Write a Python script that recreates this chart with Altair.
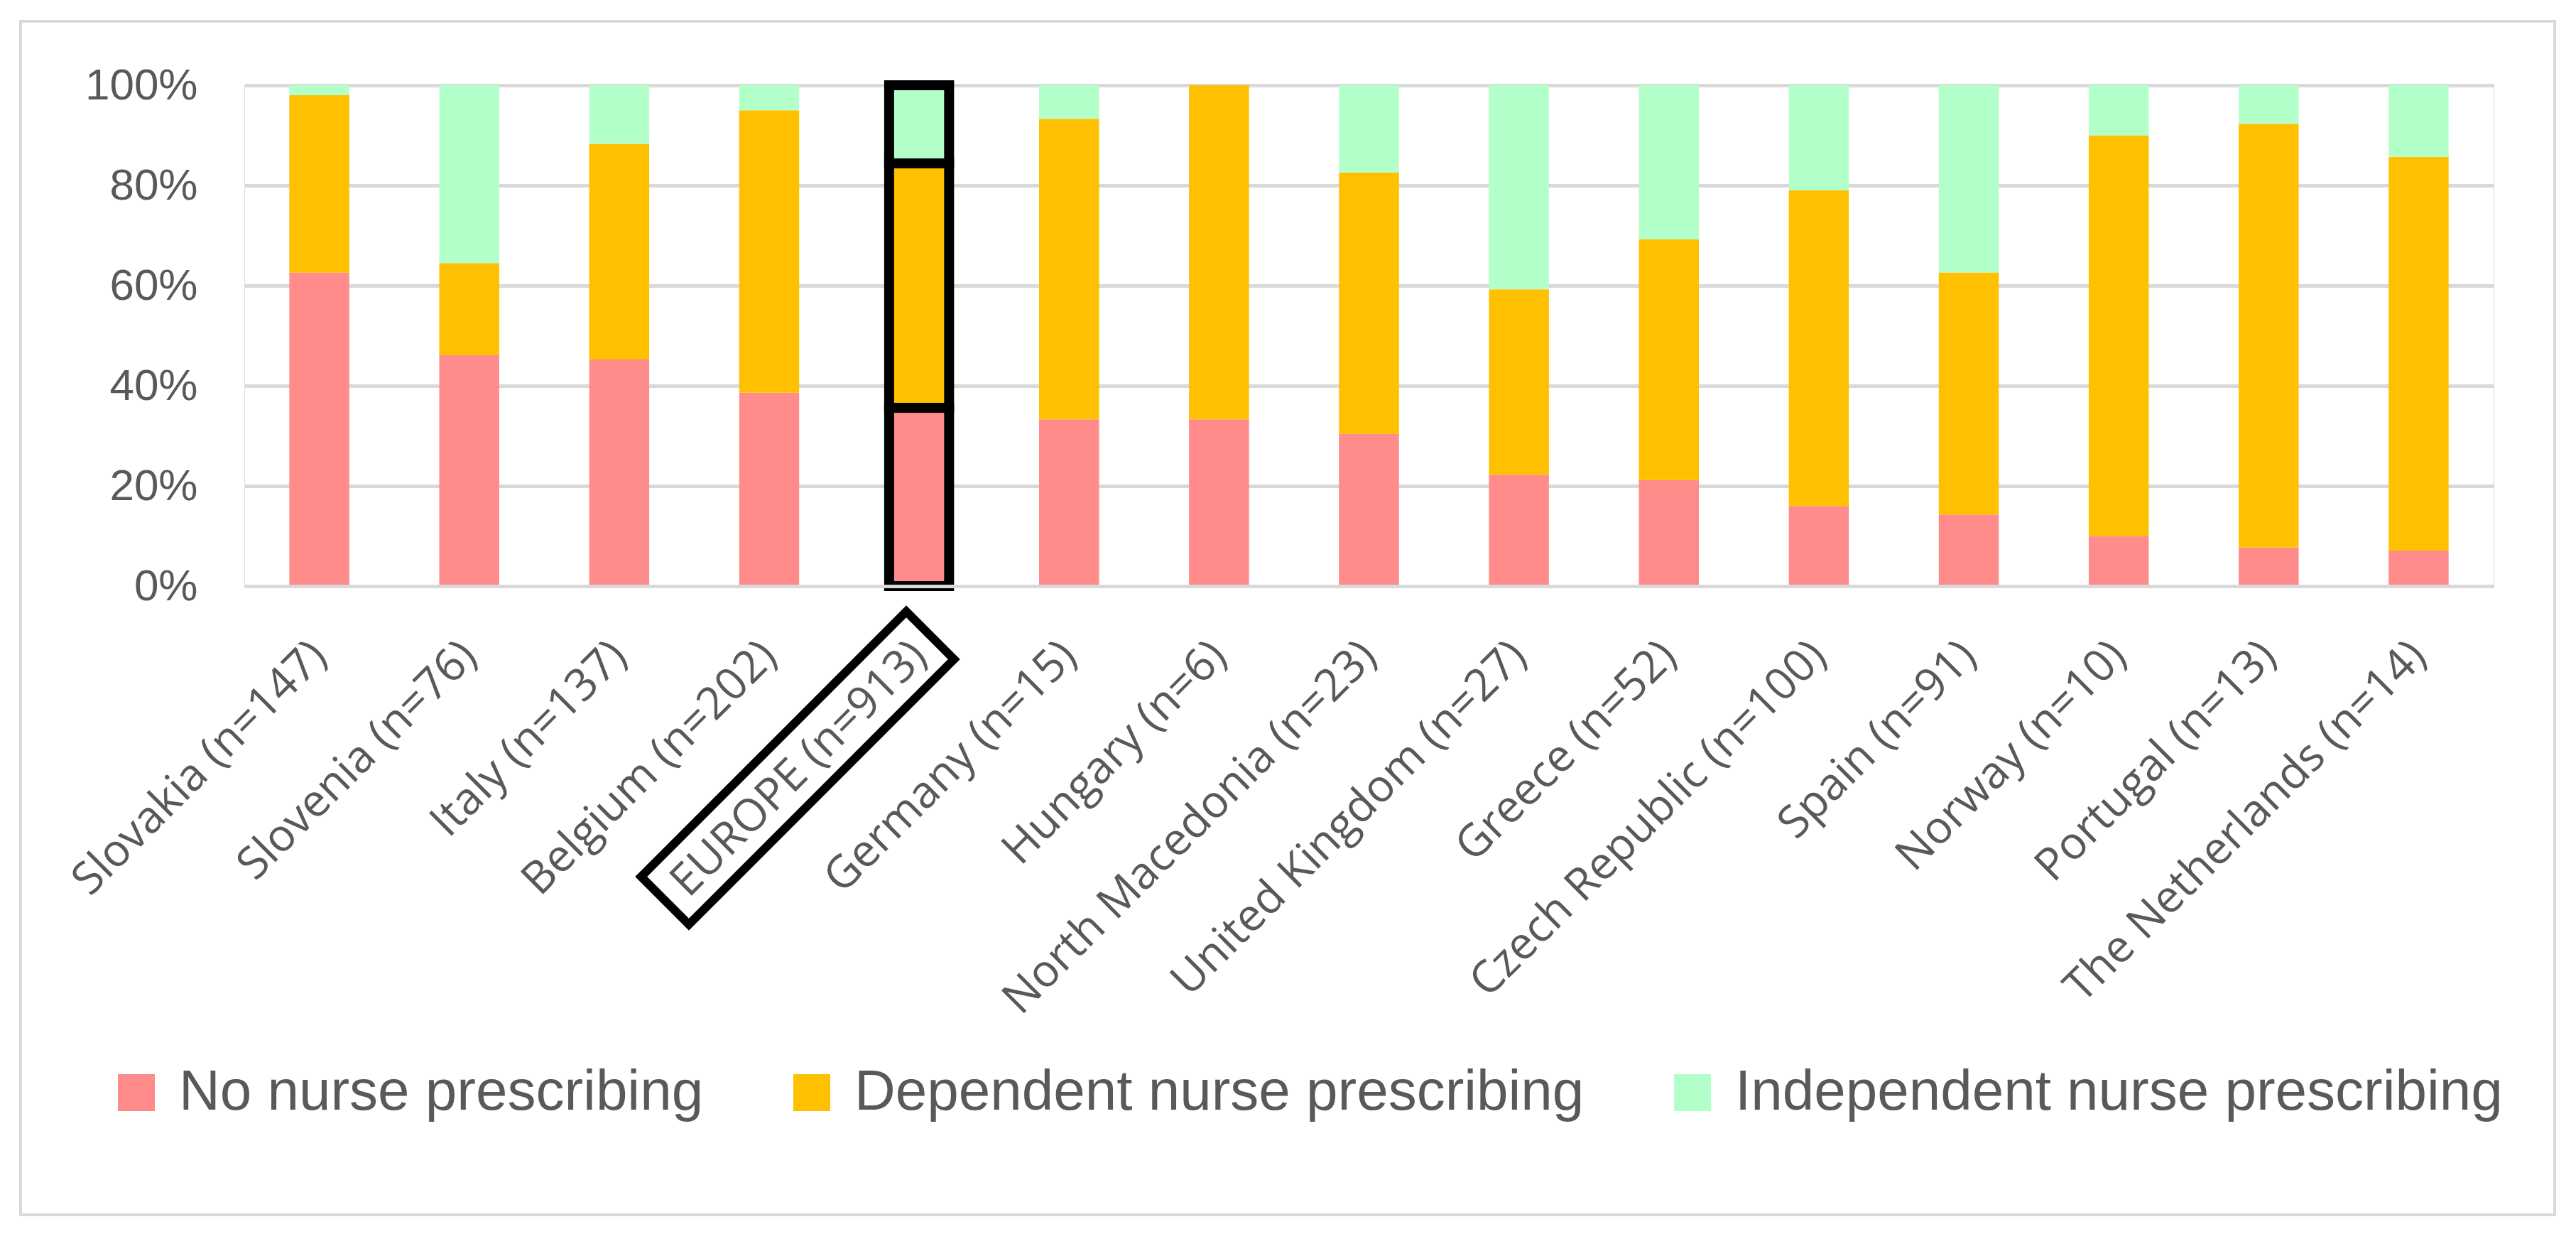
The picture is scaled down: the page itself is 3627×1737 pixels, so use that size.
import altair as alt
import pandas as pd

countries = ["Slovakia (n=147)", "Slovenia (n=76)", "Italy (n=137)", "Belgium (n=202)",
             "EUROPE (n=913)", "Germany (n=15)", "Hungary (n=6)", "North Macedonia (n=23)",
             "United Kingdom (n=27)", "Greece (n=52)", "Czech Republic (n=100)", "Spain (n=91)",
             "Norway (n=10)", "Portugal (n=13)", "The Netherlands (n=14)"]
no_prescribing = [62.6, 46.1, 45.3, 38.6, 35.6, 33.3, 33.3, 30.4, 22.2, 21.2, 16.0, 14.3, 10.0, 7.7, 7.1]
dependent = [35.4, 18.4, 43.1, 56.4, 48.8, 60.0, 66.7, 52.2, 37.0, 48.1, 63.0, 48.4, 80.0, 84.6, 78.6]
independent = [2.0, 35.5, 11.7, 5.0, 15.6, 6.7, 0.0, 17.4, 40.7, 30.8, 21.0, 37.4, 10.0, 7.7, 14.3]

categories = ["No nurse prescribing", "Dependent nurse prescribing", "Independent nurse prescribing"]
colors = ["#FF8B8B", "#FFC000", "#B3FFCA"]
highlight = "EUROPE (n=913)"

rows = []
for i, c in enumerate(countries):
    for k, (cat, vals) in enumerate(zip(categories, [no_prescribing, dependent, independent])):
        rows.append({"Country": c, "Category": cat, "Value": vals[i], "order": k})
df = pd.DataFrame(rows)

x_enc = alt.X("Country:N", sort=countries, title=None,
              scale=alt.Scale(paddingInner=0.6, paddingOuter=0.3),
              axis=alt.Axis(labelAngle=315, labelAlign="right", labelBaseline="middle",
                            labelPadding=88, labelFont="Open Sans", labelFontSize=63,
                            labelColor="#595959", labelLimit=0, ticks=False,
                            domain=True, domainColor="#D9D9D9", domainWidth=5, zindex=1))
y_enc = alt.Y("Value:Q", stack="normalize", title=None,
              scale=alt.Scale(domain=[0, 1]),
              axis=alt.Axis(values=[0, 0.2, 0.4, 0.6, 0.8, 1.0], format=".0%",
                            labelFont="Liberation Sans", labelFontSize=62, labelColor="#595959",
                            labelPadding=66, domain=False, ticks=False,
                            gridColor="#D9D9D9", gridWidth=5))

bars = alt.Chart(df).mark_bar().encode(
    x=x_enc,
    y=y_enc,
    color=alt.Color("Category:N", scale=alt.Scale(domain=categories, range=colors),
                    legend=alt.Legend(orient="none", legendX=-192, legendY=1378,
                                      direction="horizontal", title=None,
                                      symbolType="square", symbolSize=2704,
                                      symbolStrokeWidth=0,
                                      labelFont="Liberation Sans", labelFontSize=80,
                                      labelColor="#595959", labelLimit=0,
                                      labelOffset=20, columnPadding=112, padding=0)),
    order=alt.Order("order:Q", sort="ascending"),
)

outline = alt.Chart(df).transform_filter(
    alt.datum.Country == highlight
).mark_bar(fillOpacity=0, stroke="black", strokeWidth=14).encode(
    x=alt.X("Country:N", sort=countries),
    y=alt.Y("Value:Q", stack="normalize"),
    detail="Category:N",
    order=alt.Order("order:Q", sort="ascending"),
)

frame = alt.Chart(pd.DataFrame({"a": [0]})).mark_rect(
    fillOpacity=0, stroke="#D9D9D9", strokeWidth=4
).encode(
    x=alt.value(-315), x2=alt.value(3253), y=alt.value(-90), y2=alt.value(1590)
)

label_box = alt.Chart(pd.DataFrame({"a": [0]})).mark_point(
    shape="M -1 -0.18 L 1 -0.18 L 1 0.18 L -1 0.18 Z",
    filled=False, stroke="black", strokeWidth=12, opacity=1, size=278784, angle=315
).encode(
    x=alt.value(779), y=alt.value(961)
)

chart = alt.layer(frame, bars, outline, label_box).properties(
    width=3167, height=705,
    autosize=alt.AutoSizeParams(type="none"),
    padding={"left": 336, "top": 112, "right": 100, "bottom": 893},
).configure_view(stroke=None).configure(background="white")

chart.save("out.html", embed_options={"renderer": "svg", "actions": False})
